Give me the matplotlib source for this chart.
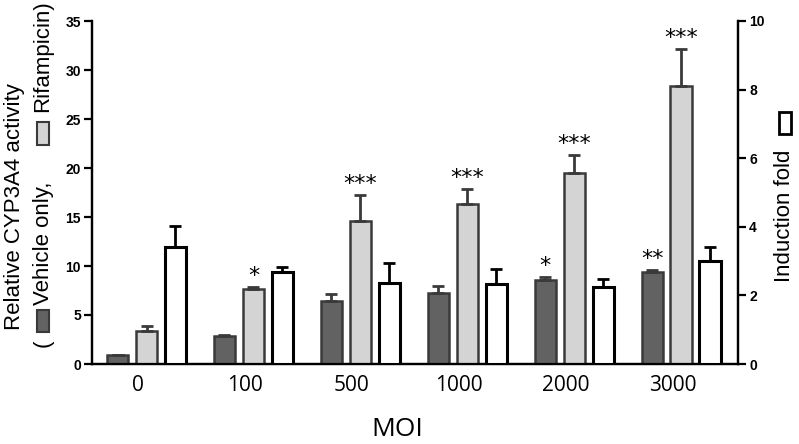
import numpy as np
import matplotlib.pyplot as plt
from matplotlib.patches import Rectangle

# values
moi = ["0", "100", "500", "1000", "2000", "3000"]
vehicle = [0.9, 2.85, 6.4, 7.2, 8.6, 9.4]
vehicle_err = [0.0, 0.1, 0.7, 0.8, 0.25, 0.2]
rifampicin = [3.4, 7.7, 14.6, 16.3, 19.5, 28.4]
rifampicin_err = [0.5, 0.15, 2.6, 1.6, 1.8, 3.7]
fold = [3.41, 2.68, 2.35, 2.32, 2.24, 3.0]
fold_err = [0.6, 0.15, 0.6, 0.45, 0.25, 0.4]
veh_stars = ["", "", "", "", "*", "**"]
rif_stars = ["", "*", "***", "***", "***", "***"]

W, H = 799, 444
fig = plt.figure(figsize=(W / 100, H / 100), dpi=100)
ax = fig.add_axes([92 / W, 1 - 364 / H, (738 - 92) / W, (364 - 21) / H])
ax2 = ax.twinx()

x = np.arange(len(moi))
bw = 0.197
off = 0.271
dark_edge = "#3a3a3a"

ax.bar(x - off, vehicle, bw, color="#626262", edgecolor=dark_edge, linewidth=1.8,
       yerr=[np.zeros(len(x)), vehicle_err], capsize=4,
       error_kw=dict(ecolor=dark_edge, elinewidth=2, capthick=2), zorder=3)
ax.bar(x, rifampicin, bw, color="#d4d4d4", edgecolor=dark_edge, linewidth=1.8,
       yerr=[np.zeros(len(x)), rifampicin_err], capsize=4,
       error_kw=dict(ecolor=dark_edge, elinewidth=2, capthick=2), zorder=3)
ax2.bar(x + off, fold, bw, color="white", edgecolor="black", linewidth=2.2,
        yerr=[np.zeros(len(x)), fold_err], capsize=4,
        error_kw=dict(ecolor="black", elinewidth=2, capthick=2), zorder=3)

for i in range(len(x)):
    if veh_stars[i]:
        ax.text(x[i] - off, vehicle[i] + vehicle_err[i] + 0.1, veh_stars[i],
                ha="center", va="bottom", fontsize=16, family="DejaVu Sans")
    if rif_stars[i]:
        ax.text(x[i], rifampicin[i] + rifampicin_err[i] + 0.1, rif_stars[i],
                ha="center", va="bottom", fontsize=16, family="DejaVu Sans")

ax.set_xlim(-0.51, 5.533)
ax.set_ylim(0, 35)
ax2.set_ylim(0, 10)
ax.set_yticks(range(0, 36, 5))
ax2.set_yticks(range(0, 11, 2))
ax.set_xticks(x - 0.08)
ax.set_xticklabels(moi, fontsize=15, family="Open Sans")
ax.tick_params(axis="x", length=0, pad=8)

for a in (ax, ax2):
    a.spines["top"].set_visible(False)
    for s in ("left", "right", "bottom"):
        a.spines[s].set_linewidth(1.6)
    a.tick_params(axis="y", width=1.6, length=6, pad=2)
    for lab in a.get_yticklabels():
        lab.set_fontweight("bold")
        lab.set_fontsize(10)
        lab.set_family("Liberation Sans")

fig.text(397 / W, 1 - 429 / H, "MOI", ha="center", va="center",
         fontsize=19, family="Open Sans")

# left axis label, two lines with legend boxes
lab_kw = dict(rotation=90, ha="center", va="center", fontsize=16, family="Liberation Sans")
fig.text(15 / W, 1 - 207 / H, "Relative CYP3A4 activity", **lab_kw)
fig.text(43 / W, 1 - 343 / H, "(", **lab_kw)
fig.text(43 / W, 1 - 243 / H, "Vehicle only,", **lab_kw)
fig.text(43 / W, 1 - 56 / H, "Rifampicin)", **lab_kw)
fig.patches.append(Rectangle((37 / W, 1 - 332 / H), 12 / W, 22 / H, transform=fig.transFigure,
                             facecolor="#626262", edgecolor=dark_edge, linewidth=1.5))
fig.patches.append(Rectangle((37 / W, 1 - 145 / H), 12 / W, 23 / H, transform=fig.transFigure,
                             facecolor="#d4d4d4", edgecolor=dark_edge, linewidth=1.5))

# right axis label
fig.text(785 / W, 1 - 216 / H, "Induction fold", **lab_kw)
fig.patches.append(Rectangle((779 / W, 1 - 134 / H), 12 / W, 22 / H, transform=fig.transFigure,
                             facecolor="white", edgecolor="black", linewidth=2))

fig.savefig("out.png", dpi=100)
